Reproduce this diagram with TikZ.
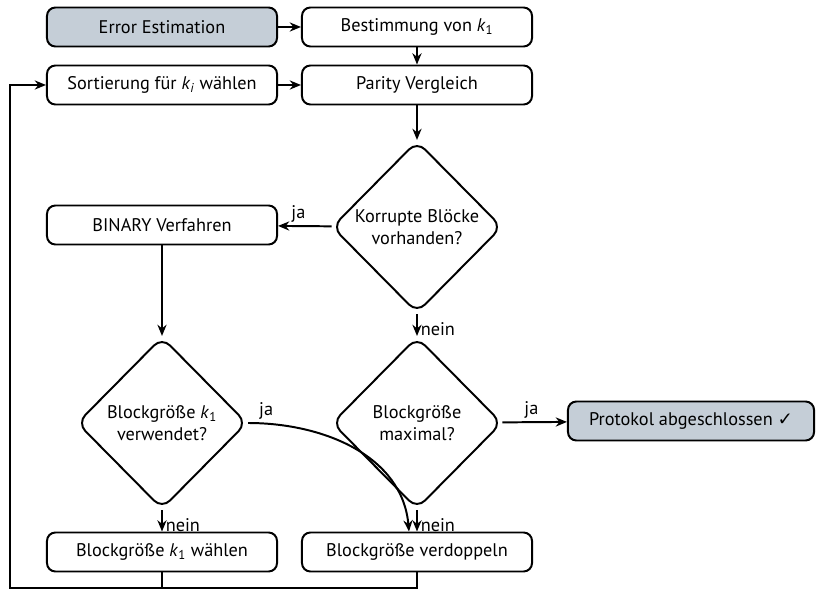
\documentclass[tikz,border=0pt]{standalone}
\usepackage{fontspec}
\setmainfont{PT Sans}
\newfontfamily\symfont{DejaVu Sans}
\usetikzlibrary{shapes,shapes.geometric,arrows.meta,calc,positioning}
\definecolor{hellgrau}{RGB}{197,206,215}
\newcommand{\kidx}[1]{\textit{k}\textsubscript{#1}}

\begin{document}
\begin{tikzpicture}
	[x=0.025cm,y=-0.025cm,line width=1.4pt,>={Stealth[length=8pt,width=6.5pt]},
	every node/.style={font=\fontsize{13}{16}\selectfont},
	box/.style={draw,rounded corners=6pt,minimum width=5.75cm,minimum height=0.975cm,inner sep=2pt},
	grau/.style={box,fill=hellgrau},
	raute/.style={draw,shape=diamond,aspect=1,rounded corners=8pt,minimum width=4.25cm,minimum height=4.3cm,align=center,inner sep=0pt},
	lbl/.style={draw=none,fill=none,inner sep=2pt}]
	\useasboundingbox (0,0) rectangle (816,590);
	\node[grau] (ee) at (162,27) {Error Estimation};
	\node[box] (bk) at (417,27) {Bestimmung von \kidx{1}};
	\node[box] (sk) at (162,85) {Sortierung für \kidx{\textit{i}} wählen};
	\node[box] (pv) at (417,85) {Parity Vergleich};
	\node[raute] (kb) at (417,227) {Korrupte Blöcke\\vorhanden?};
	\node[box] (bv) at (162,225) {BINARY Verfahren};
	\node[raute] (kv) at (162,423) {Blockgröße \kidx{1}\\verwendet?};
	\node[raute] (bm) at (417,423) {Blockgröße\\maximal?};
	\node[grau,minimum width=6.15cm] (pa) at (691,421) {Protokol abgeschlossen {\symfont ✓}};
	\node[box] (kw) at (162,552) {Blockgröße \kidx{1} wählen};
	\node[box] (vd) at (417,552) {Blockgröße verdoppeln};
	\coordinate (lo) at (10,588);
	
	\draw [->] (ee) -- (bk);
	\draw [->] (bk) -- (pv);
	\draw [->] (sk) -- (pv);
	\draw [->] (pv) -- (kb);
	\draw [->] (kb) -- node[lbl,above,pos=0.62]{ja} (bv);
	\draw [->] (kb) -- node[lbl,right,pos=0.7]{nein} (bm);
	\draw [->] (bv) -- (kv);
	\draw [->] (kv) -- node[lbl,right,pos=0.7]{nein} (kw);
	\draw [->] (bm) -- node[lbl,right,pos=0.7]{nein} (vd);
	\draw [->] (bm) -- node[lbl,above,pos=0.45]{ja} (pa);
	\draw [->] (kv.east) to[out=0,in=95] node[lbl,above,pos=0.08]{ja} ($(vd.north)+(-8,0)$);
	% Schleife zurueck
	\draw (kw.south) -- (kw.south |- lo);
	\draw [->] (vd.south) |- (lo) |- (sk.west);
\end{tikzpicture}
\end{document}
